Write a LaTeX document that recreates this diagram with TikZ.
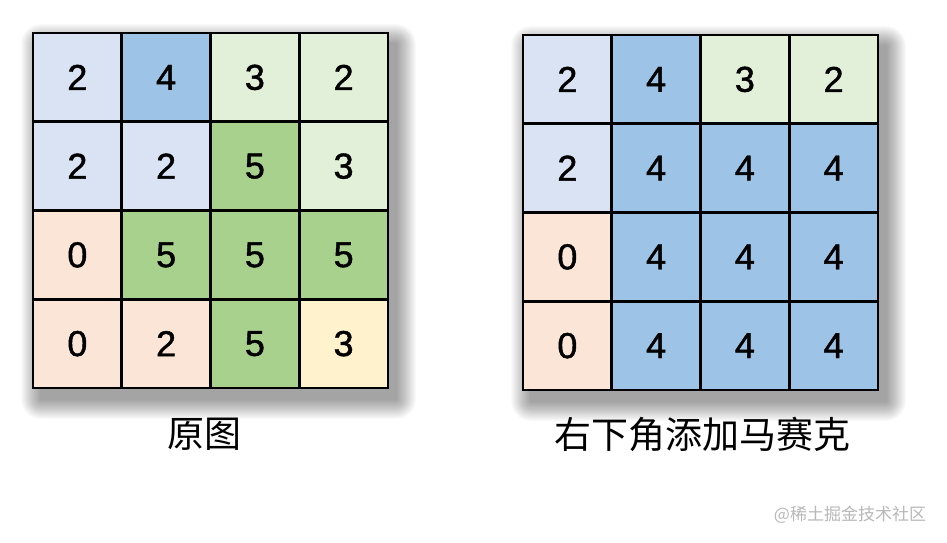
\documentclass[tikz,border=0pt]{standalone}
\usepackage{fontspec}
\setmainfont{Liberation Sans}
\newfontfamily\digitfont[FakeBold=1.2]{Liberation Sans}
\newfontfamily\cjk{Noto Sans CJK SC}
\definecolor{lb}{HTML}{DAE3F3}
\definecolor{mb}{HTML}{9DC3E6}
\definecolor{lg}{HTML}{E2F0D9}
\definecolor{gg}{HTML}{A9D18E}
\definecolor{pe}{HTML}{FBE5D6}
\definecolor{ye}{HTML}{FFF2CC}
\definecolor{wm}{HTML}{B8B8B8}
\tikzset{
  cell/.style={draw=black, line width=2.6pt, minimum size=88.75pt, inner sep=0pt, anchor=center,
    font=\digitfont\fontsize{36}{36}\selectfont},
  caption/.style={font=\cjk\fontsize{37}{38}\selectfont, inner sep=0pt},
  wmark/.style={font=\cjk\fontsize{17}{18}\selectfont, text=wm, inner sep=0pt}
}
\newcommand{\softshadow}[4]{% x1 y1 x2 y2
  \foreach \k in {0,...,19}{
    \fill[black, opacity=0.02, rounded corners={20pt-\k pt}]
      ({#1+8-20+\k},{#2+11-20+\k}) rectangle ({#3+8+20-\k},{#4+11+20-\k});
  }
}
\begin{document}
\begin{tikzpicture}[x=1pt,y=-1pt]
\useasboundingbox (0,0) rectangle (947,543);
\fill[white] (0,0) rectangle (947,543);
% shadows
\softshadow{33}{33}{388}{388}
\softshadow{523}{35}{878}{390}
% left grid
\foreach \v/\c [count=\i from 0] in {2/lb,4/mb,3/lg,2/lg, 2/lb,2/lb,5/gg,3/lg, 0/pe,5/gg,5/gg,5/gg, 0/pe,2/pe,5/gg,3/ye}{
  \pgfmathtruncatemacro{\r}{int(\i/4)}
  \pgfmathtruncatemacro{\cc}{mod(\i,4)}
  \node[cell, fill=\c] (L-\r-\cc) at ({33+44.375+88.75*\cc},{33+44.375+88.75*\r}) {\v};
}
% right grid
\foreach \v/\c [count=\i from 0] in {2/lb,4/mb,3/lg,2/lg, 2/lb,4/mb,4/mb,4/mb, 0/pe,4/mb,4/mb,4/mb, 0/pe,4/mb,4/mb,4/mb}{
  \pgfmathtruncatemacro{\r}{int(\i/4)}
  \pgfmathtruncatemacro{\cc}{mod(\i,4)}
  \node[cell, fill=\c] (R-\r-\cc) at ({523+44.375+88.75*\cc},{35+44.375+88.75*\r}) {\v};
}
\node[caption] (capL) at (204,434) {原图};
\node[caption] (capR) at (702,434) {右下角添加马赛克};
\node[wmark] (wm) at (850,515) {@稀土掘金技术社区};
\end{tikzpicture}
\end{document}
